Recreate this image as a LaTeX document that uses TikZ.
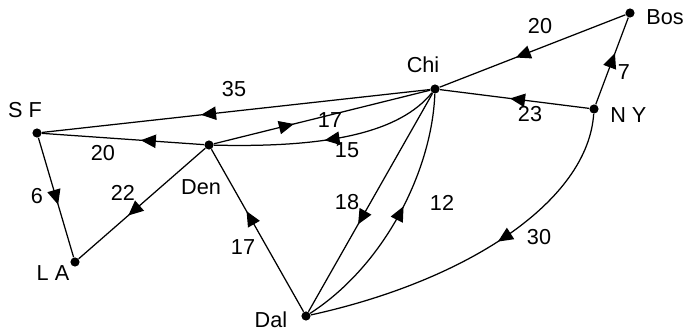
\documentclass[tikz,border=0pt]{standalone}
\usepackage{fontspec}
\setmainfont{Liberation Sans}
\usetikzlibrary{arrows.meta,decorations.markings}

\begin{document}
\begin{tikzpicture}[
    x=0.6pt, y=-0.6pt,
    line join=round,
    % cities and routes
    city/.style={circle, fill=black, inner sep=0pt, minimum size=5.5pt},
    route/.style={line width=0.75pt},
    flow/.style={decoration={markings,
        mark=at position #1 with {\arrow{Triangle[length=9pt,width=8pt]}}},
        postaction={decorate}},
    lbl/.style={font=\fontsize{13}{15}\selectfont, inner sep=0pt}
]

% ---------------------------------------------------------
% 1. BOUNDING BOX (683 x 335)
% ---------------------------------------------------------
\path [use as bounding box] (0,0) rectangle (683,335);

% ---------------------------------------------------------
% 2. CITIES
% ---------------------------------------------------------
\node[city] (SF)  at (37,133)  {};
\node[city] (LA)  at (75,262)  {};
\node[city] (Den) at (209,145) {};
\node[city] (Chi) at (435,89)  {};
\node[city] (Bos) at (630,13)  {};
\node[city] (NY)  at (594,109) {};
\node[city] (Dal) at (306,316) {};

% ---------------------------------------------------------
% 3. ROUTES (arrow mark gives the direction)
% ---------------------------------------------------------
\draw[route, flow=0.59] (Bos) -- (Chi);
\draw[route, flow=0.59] (NY) -- (Bos);
\draw[route, flow=0.53] (NY) -- (Chi);
\draw[route, flow=0.59] (Chi) -- (SF);
\draw[route, flow=0.39] (Den) -- (SF);
\draw[route, flow=0.56] (SF) -- (LA);
\draw[route, flow=0.61] (Den) -- (LA);
\draw[route, flow=0.37] (Den) -- (Chi);
\draw[route, flow=0.62] (Dal) -- (Den);
\draw[route, flow=0.60] (Chi) -- (Dal);

% curved routes
\draw[route, flow=0.52] (Chi) .. controls (400,132) and (330,148) .. (Den);
\draw[route, flow=0.55] (Dal) .. controls (385,265) and (432,170) .. (Chi);
\draw[route, flow=0.45] (NY) .. controls (588,200) and (470,280) .. (Dal);

% ---------------------------------------------------------
% 4. LABELS
% ---------------------------------------------------------
\node[lbl] (lSF)  at (25,110)  {S F};
\node[lbl] (lLA)  at (53,273)  {L A};
\node[lbl] (lDen) at (201,187) {Den};
\node[lbl] (lChi) at (423,65)  {Chi};
\node[lbl, anchor=west] (lBos) at (646,17) {Bos};
\node[lbl, anchor=west] (lNY) at (610,115) {N Y};
\node[lbl] (lDal) at (271,320) {Dal};

\node[lbl] (wBC) at (540,26)  {20};
\node[lbl] (wNB) at (624,72)  {7};
\node[lbl] (wNC) at (530,114) {23};
\node[lbl] (wCS) at (234,89)  {35};
\node[lbl] (wDC) at (330,120) {17};
\node[lbl] (wCD) at (347,150) {15};
\node[lbl] (wDS) at (103,153) {20};
\node[lbl] (wSL) at (37,196)  {6};
\node[lbl] (wDL) at (123,193) {22};
\node[lbl] (wLD) at (243,247) {17};
\node[lbl] (wCL) at (347,202) {18};
\node[lbl] (wLC) at (442,203) {12};
\node[lbl] (wNL) at (539,237) {30};

\end{tikzpicture}
\end{document}
